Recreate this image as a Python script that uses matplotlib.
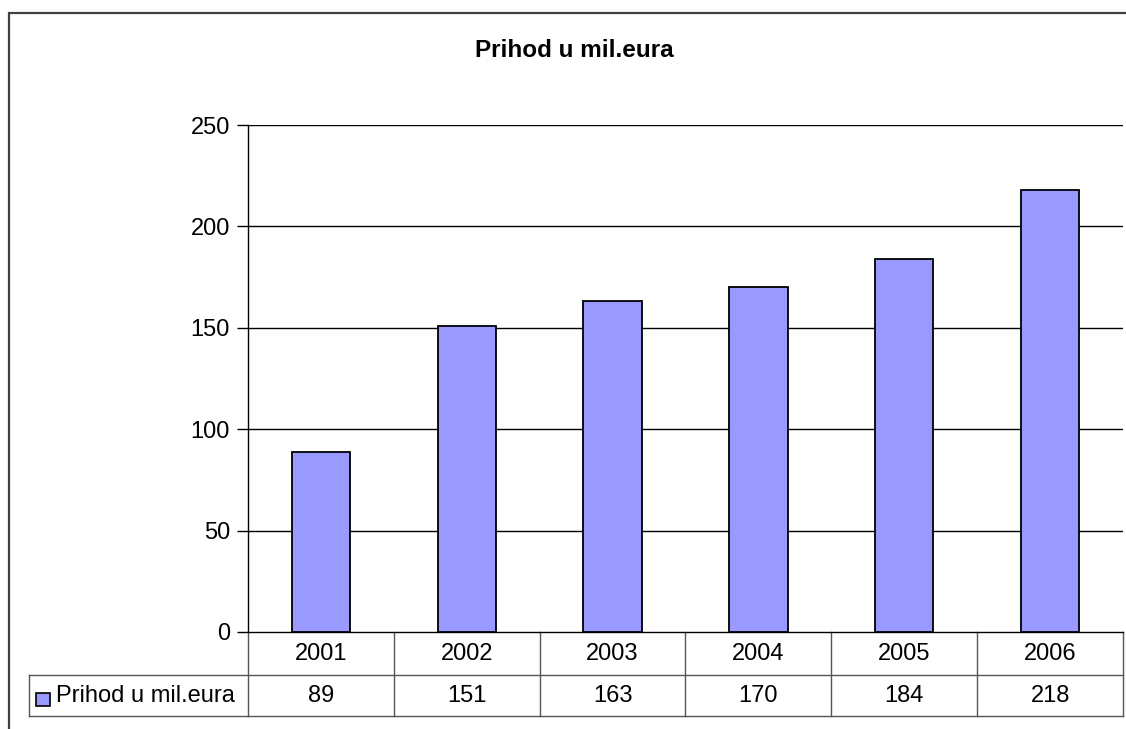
import matplotlib
matplotlib.use("Agg")
import matplotlib.pyplot as plt
from matplotlib.patches import Rectangle
import matplotlib.transforms as mtransforms

# data
years = ["2001", "2002", "2003", "2004", "2005", "2006"]
prihod = [89, 151, 163, 170, 184, 218]
series_name = "Prihod u mil.eura"
title = "Prihod u mil.eura"
y_ticks = [0, 50, 100, 150, 200, 250]

W, H = 1126, 729
plt.rcParams['font.family'] = ['Liberation Sans', 'DejaVu Sans']
FS = 17

fig = plt.figure(figsize=(W / 100, H / 100), dpi=100)
fig.patch.set_facecolor("white")

# outer chart border (only top/left visible in the crop)
fig.patches.append(Rectangle((8.5 / W, -0.1), 1.2, 1 - 13 / H + 0.1, transform=fig.transFigure,
                             fill=False, edgecolor="#404040", linewidth=1.6))

left, right, top, bottom = 248, 1123, 125, 632
ax = fig.add_axes([left / W, 1 - bottom / H, (right - left) / W, (bottom - top) / H])

x = list(range(len(years)))
ax.bar(x, prihod, width=0.4, color="#9999FF", edgecolor="black", linewidth=1.3, zorder=3)

ax.set_xlim(-0.5, len(years) - 0.5)
ax.set_ylim(0, 250)
ax.set_yticks(y_ticks)
ax.set_yticklabels([str(v) for v in y_ticks], fontsize=FS)
ax.tick_params(axis="y", length=8, width=1, pad=5)
ax.set_xticks([])
for v in y_ticks[1:]:
    ax.axhline(v, color="black", linewidth=1, zorder=1)
for s in ["top", "right", "bottom"]:
    ax.spines[s].set_visible(False)
ax.spines["left"].set_linewidth(1)

fig.text(574.5 / W, 1 - 57 / H, title, ha="center", va="baseline", fontsize=17.5, fontweight="bold")

# data table under the axis
trans = mtransforms.blended_transform_factory(ax.transData, ax.transAxes)
ph = bottom - top
pw = right - left
r1 = -(675 - bottom) / ph
r2 = -(716 - bottom) / ph
grey = "#555555"
legend_left = (29 - left) / pw

ax.plot([-0.5, len(years) - 0.5], [r1, r1], transform=trans, color=grey, lw=1, clip_on=False)
ax.plot([-0.5, len(years) - 0.5], [r2, r2], transform=trans, color=grey, lw=1, clip_on=False)
ax.plot([legend_left, 0], [r1, r1], transform=ax.transAxes, color=grey, lw=1, clip_on=False)
ax.plot([legend_left, 0], [r2, r2], transform=ax.transAxes, color=grey, lw=1, clip_on=False)
ax.plot([legend_left, legend_left], [r1, r2], transform=ax.transAxes, color=grey, lw=1, clip_on=False)
ax.plot([0, 0], [0, r2], transform=ax.transAxes, color=grey, lw=1, clip_on=False)
for i in range(len(years)):
    ax.plot([i + 0.5, i + 0.5], [0, r2], transform=trans, color=grey, lw=1, clip_on=False)
    ax.text(i, r1 / 2, years[i], transform=trans, ha="center", va="center", fontsize=FS)
    ax.text(i, (r1 + r2) / 2, str(prihod[i]), transform=trans, ha="center", va="center", fontsize=FS)
ax.plot([-0.5, len(years) - 0.5], [0, 0], transform=trans, color="black", lw=1, clip_on=False)

# legend key in the row label cell
ax.add_patch(Rectangle(((36 - left) / pw, -(706 - bottom) / ph), 13.5 / pw, 13.5 / ph,
                       transform=ax.transAxes, facecolor="#9999FF", edgecolor="black", lw=1.2, clip_on=False))
ax.text((56 - left) / pw, (r1 + r2) / 2, series_name, transform=ax.transAxes,
        ha="left", va="center", fontsize=FS)

fig.savefig("out.png", dpi=100)
